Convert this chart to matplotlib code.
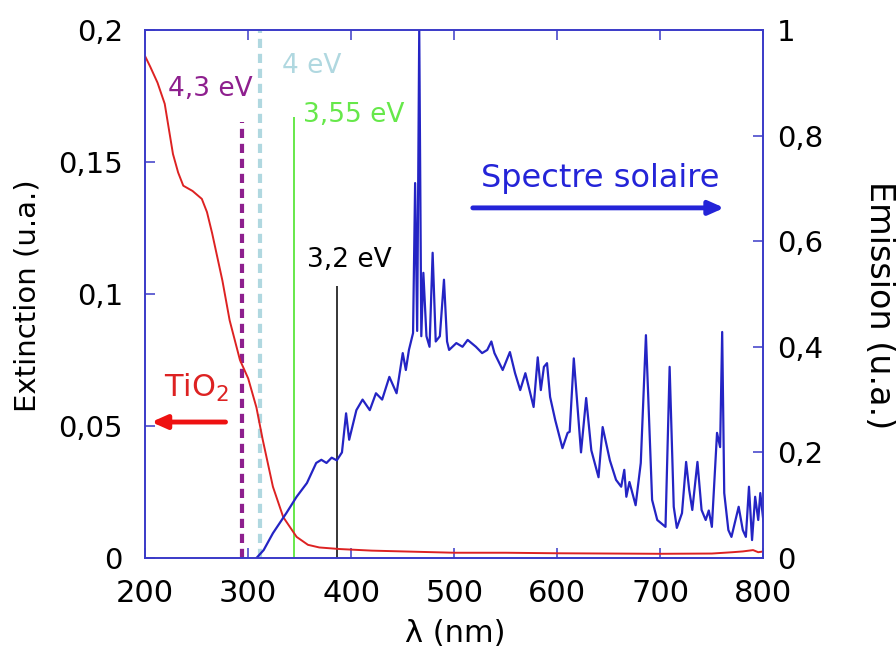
import matplotlib
matplotlib.use('Agg')
import matplotlib.pyplot as plt
from matplotlib.ticker import FuncFormatter, MultipleLocator

# TiO2 extinction spectrum (left axis)
tio2_wl = [200, 205, 212, 219, 227, 232, 237, 246, 255, 260, 265, 270, 275, 282,
           292, 300, 308, 314, 324, 334, 347, 358, 369, 389, 420, 450, 500, 550,
           600, 650, 700, 750, 770, 780, 790, 795, 800]
tio2_ext = [0.190, 0.186, 0.180, 0.172, 0.153, 0.146, 0.141, 0.139, 0.136, 0.131,
            0.123, 0.114, 0.105, 0.090, 0.075, 0.068, 0.057, 0.045, 0.027, 0.0155,
            0.008, 0.005, 0.004, 0.0034, 0.0028, 0.0025, 0.002, 0.002, 0.0018,
            0.0017, 0.0016, 0.0017, 0.0022, 0.0025, 0.003, 0.0022, 0.0025]

# solar emission spectrum (right axis)
sun_wl = [308, 315, 324, 337, 347, 357, 366, 371, 376, 381, 386, 391, 395, 398,
          405, 411, 418, 424, 430, 437, 444, 450, 453, 456, 460, 462, 464, 466,
          468, 470, 473, 476, 479, 482, 486, 490, 493, 495, 502, 508, 513, 521,
          527, 532, 536, 539, 547, 554, 559, 564, 569, 577, 581, 584, 587, 590,
          593, 598, 605, 610, 612, 616, 623, 628, 633, 640, 644, 651, 657, 662,
          665, 667, 670, 676, 681, 686, 692, 697, 705, 709, 713, 716, 721, 725,
          728, 731, 736, 740, 744, 747, 750, 755, 758, 760, 762, 766, 769, 776,
          780, 783, 786, 789, 792, 795, 797, 800]
sun_em = [0.0, 0.015, 0.047, 0.085, 0.116, 0.142, 0.180, 0.186, 0.180, 0.190,
          0.185, 0.200, 0.274, 0.224, 0.280, 0.300, 0.280, 0.312, 0.300, 0.343,
          0.312, 0.388, 0.356, 0.394, 0.426, 0.710, 0.430, 1.000, 0.420, 0.540,
          0.420, 0.400, 0.578, 0.410, 0.420, 0.527, 0.410, 0.394, 0.407, 0.400,
          0.413, 0.400, 0.388, 0.394, 0.410, 0.388, 0.356, 0.390, 0.350, 0.318,
          0.350, 0.286, 0.380, 0.318, 0.362, 0.369, 0.305, 0.261, 0.208, 0.237,
          0.239, 0.378, 0.200, 0.303, 0.204, 0.153, 0.248, 0.185, 0.148, 0.135,
          0.167, 0.116, 0.144, 0.100, 0.180, 0.422, 0.110, 0.072, 0.059, 0.362,
          0.097, 0.057, 0.085, 0.182, 0.129, 0.091, 0.182, 0.091, 0.072, 0.090,
          0.059, 0.237, 0.210, 0.428, 0.123, 0.053, 0.040, 0.097, 0.053, 0.040,
          0.135, 0.034, 0.116, 0.072, 0.123, 0.070]

# band-gap markers: wavelength, height on extinction axis, label
gap_labels = ['4,3 eV', '4 eV', '3,55 eV', '3,2 eV']
gap_wl = [294, 311.5, 344.5, 386.5]
gap_top = [0.165, 0.2, 0.167, 0.103]

frame = '#3a3ac8'
fig = plt.figure(figsize=(8.96, 6.5), dpi=100)
ax = fig.add_axes([0.162, 0.1415, 0.690, 0.8125])
ax2 = ax.twinx()

ax.plot(tio2_wl, tio2_ext, color='#dd2222', lw=1.4, zorder=3)
ax2.plot(sun_wl, sun_em, color='#2424c4', lw=1.6)

ax.vlines(gap_wl[0], 0, gap_top[0], color='#8e1f8e', lw=3, linestyles=(0, (2.2, 1.4)))
ax.vlines(gap_wl[1], 0, gap_top[1], color='#b0d8e0', lw=3, linestyles=(0, (2.2, 1.4)))
ax.vlines(gap_wl[2], 0, gap_top[2], color='#66e84a', lw=1.4)
ax.vlines(gap_wl[3], 0, gap_top[3], color='black', lw=1.1)

ax.text(263, 0.175, gap_labels[0], color='#8e1f8e', fontsize=19, ha='center', va='baseline')
ax.text(362, 0.1837, gap_labels[1], color='#b0d8e0', fontsize=19, ha='center', va='baseline')
ax.text(402, 0.1652, gap_labels[2], color='#66e84a', fontsize=19, ha='center', va='baseline')
ax.text(398, 0.1102, gap_labels[3], color='black', fontsize=19, ha='center', va='baseline')

ax.text(250, 0.061, 'TiO$_2$', color='#dd2222', fontsize=22, ha='center', va='baseline')
ax.annotate('', xy=(206, 0.0515), xytext=(278, 0.0515),
            arrowprops=dict(arrowstyle='-|>,head_length=0.9,head_width=0.4',
                            color='#ee1111', lw=3.5, shrinkA=0, shrinkB=0))
ax.text(642, 0.1405, 'Spectre solaire', color='#2424d8', fontsize=23, ha='center', va='baseline')
ax.annotate('', xy=(762, 0.1326), xytext=(518, 0.1326),
            arrowprops=dict(arrowstyle='-|>,head_length=0.9,head_width=0.4',
                            color='#2424d8', lw=3.5, shrinkA=0, shrinkB=0))

ax.set_xlim(200, 800)
ax.set_ylim(0, 0.2)
ax2.set_ylim(0, 1)
ax.xaxis.set_major_locator(MultipleLocator(100))
ax.yaxis.set_major_locator(MultipleLocator(0.05))
ax2.yaxis.set_major_locator(MultipleLocator(0.2))

comma = FuncFormatter(lambda v, p: ('%g' % round(v, 4)).replace('.', ','))
ax.yaxis.set_major_formatter(comma)
ax2.yaxis.set_major_formatter(comma)

ax.tick_params(axis='x', direction='in', top=True, length=7, width=1.1,
               color=frame, labelsize=22, pad=15)
ax.tick_params(axis='y', direction='in', length=7, width=1.1,
               color=frame, labelsize=21, pad=16)
ax2.tick_params(axis='y', direction='in', length=7, width=1.1,
                color=frame, labelsize=21, pad=10)
for a in (ax, ax2):
    for s in a.spines.values():
        s.set_color(frame)
        s.set_linewidth(1.2)

fig.text(0.031, 0.545, 'Extinction (u.a.)', rotation=90, fontsize=21,
         ha='center', va='center')
fig.text(0.982, 0.53, 'Emission (u.a.)', rotation=-90, fontsize=24,
         ha='center', va='center')
fig.text(0.508, 0.026, 'λ (nm)', fontsize=22, ha='center', va='center')

fig.savefig('out.png', dpi=100)
